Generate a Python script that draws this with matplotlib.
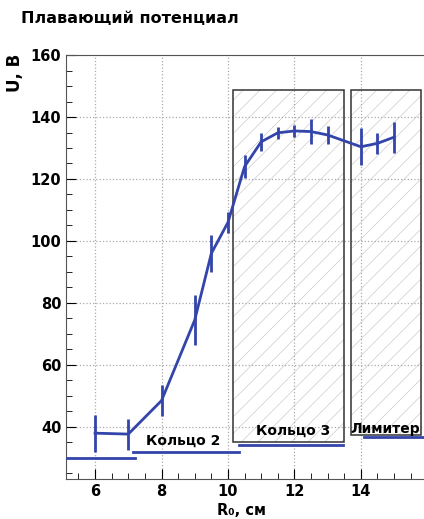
# Плавающий потенциал vs R0
import numpy as np
import matplotlib.pyplot as plt
from matplotlib.patches import Rectangle
from matplotlib.ticker import MultipleLocator

# данные
r0 = [6, 7, 8, 9, 9.5, 10, 10.5, 11, 11.5, 12, 12.5, 13, 14, 14.5, 15]
u = [38, 37.7, 48.5, 74.5, 96, 106, 124, 132, 134.9, 135.5, 135.3, 134.2, 130.4, 131.5, 133.5]
u_err = [6, 5, 5, 8, 6, 3.3, 3.6, 3, 2, 2, 4, 3, 6, 3.5, 5]

# зоны (x0, x1, y_низ, y_верх)
zones = [(10.14, 13.49, 35.1, 148.7), (13.69, 15.8, 37.4, 148.7)]
# синие отрезки: (x0, x1, y)
segments = [(5.13, 7.2, 29.9), (7.15, 10.34, 31.9), (10.32, 13.46, 34.2), (14.1, 15.9, 36.7)]
labels = [("Кольцо 2", 8.66, 35.5), ("Кольцо 3", 11.96, 38.8), ("Лимитер", 14.73, 39.5)]

blue = '#3344aa'
plt.rcParams['hatch.linewidth'] = 0.5

fig = plt.figure(figsize=(4.24, 5.19), dpi=100)
ax = fig.add_axes([0.156, 0.077, 0.844, 0.817])

for x0, x1, y0, y1 in zones:
    ax.add_patch(Rectangle((x0, y0), x1 - x0, y1 - y0, facecolor='none',
                           edgecolor='#cccccc', hatch='//', linewidth=0, zorder=1))
    ax.add_patch(Rectangle((x0, y0), x1 - x0, y1 - y0, facecolor='none',
                           edgecolor='#333333', linewidth=1.1, zorder=2))

for x0, x1, y in segments:
    ax.plot([x0, x1], [y, y], color=blue, linewidth=2, zorder=3)

ax.errorbar(r0, u, yerr=u_err, color=blue, linewidth=2, elinewidth=2, capsize=0, zorder=4)

for txt, x, y in labels:
    ax.text(x, y, txt, ha='center', va='center', fontsize=10, fontweight='bold', zorder=5)

ax.set_xlim(5.13, 15.9)
ax.set_ylim(23.2, 160)
ax.set_xticks([6, 8, 10, 12, 14])
ax.set_yticks([40, 60, 80, 100, 120, 140, 160])
ax.xaxis.set_minor_locator(MultipleLocator(0.5))
ax.yaxis.set_minor_locator(MultipleLocator(5))
ax.tick_params(which='both', direction='in', labelsize=10.5)
ax.tick_params(which='major', length=7)
ax.tick_params(which='minor', length=4)
for lab in ax.get_xticklabels() + ax.get_yticklabels():
    lab.set_fontweight('bold')
ax.grid(True, which='major', linestyle=':', color='#aaaaaa', linewidth=0.9)
ax.spines['right'].set_visible(False)
for s in ['left', 'bottom', 'top']:
    ax.spines[s].set_color('#555555')

fig.text(0.05, 0.965, "Плавающий потенциал", fontsize=11.5, fontweight='bold', va='center')
fig.text(0.035, 0.86, "U, В", fontsize=12, fontweight='bold', rotation=90, va='center', ha='center')
fig.text(0.57, 0.017, "R₀, см", fontsize=10.5, fontweight='bold', ha='center', va='center')

fig.savefig('out.png', dpi=100)
